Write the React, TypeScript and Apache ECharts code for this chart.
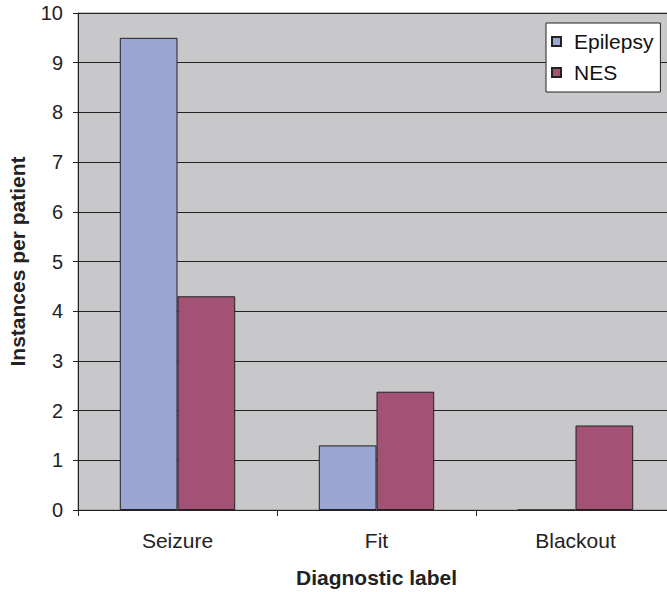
import React, { useEffect, useRef } from "react";
import * as echarts from "echarts";

const categories = ["Seizure", "Fit", "Blackout"];
const epilepsyValues = [9.5, 1.3, 0];
const nesValues = [4.3, 2.38, 1.7];
const seriesNames = ["Epilepsy", "NES"];

const FONT = "'Liberation Sans', Arial, sans-serif";

export default function App() {
  const ref = useRef<HTMLDivElement>(null);
  useEffect(() => {
    if (!ref.current) return;
    const chart = echarts.init(ref.current, undefined, { renderer: "svg" });
    chart.setOption({
      animation: false,
      textStyle: { fontFamily: FONT },
      grid: {
        left: 78,
        right: 0,
        top: 13,
        bottom: 82,
        containLabel: false,
        outerBoundsMode: "none",
        show: true,
        backgroundColor: "#c8c8ca",
        borderColor: "#8a8a8a",
        borderWidth: 1,
      },
      legend: {
        orient: "vertical",
        left: 546,
        top: 23,
        padding: [8, 7, 9, 5],
        itemGap: 10,
        itemWidth: 9,
        itemHeight: 9,
        icon: "rect",
        backgroundColor: "#ffffff",
        borderColor: "#222",
        borderWidth: 1,
        borderRadius: 0,
        textStyle: { fontSize: 21, color: "#111", fontFamily: FONT, padding: [0, 0, 0, 8] },
        data: seriesNames,
      },
      xAxis: {
        type: "category",
        data: categories,
        name: "Diagnostic label",
        nameLocation: "middle",
        nameGap: 57,
        nameTextStyle: { fontSize: 21, fontWeight: "bold", color: "#222", fontFamily: FONT },
        axisLine: { lineStyle: { color: "#222", width: 1 } },
        axisTick: { show: true, length: 6, lineStyle: { color: "#222" } },
        axisLabel: { fontSize: 21, color: "#222", margin: 20, fontFamily: FONT },
      },
      yAxis: {
        type: "value",
        min: 0,
        max: 10,
        interval: 1,
        name: "Instances per patient",
        nameLocation: "middle",
        nameGap: 50,
        nameTextStyle: { fontSize: 21, fontWeight: "bold", color: "#222", fontFamily: FONT },
        axisLine: { show: true, lineStyle: { color: "#222", width: 1 } },
        axisTick: { show: true, length: 5, lineStyle: { color: "#222" } },
        axisLabel: { fontSize: 20, color: "#222", margin: 15, fontFamily: FONT },
        splitLine: { show: true, lineStyle: { color: "#222", width: 1 } },
      },
      series: [
        {
          name: seriesNames[0],
          type: "bar",
          data: epilepsyValues,
          barGap: "0%",
          barCategoryGap: "42%",
          itemStyle: { color: "#9aa5d4", borderColor: "#222", borderWidth: 1 },
        },
        {
          name: seriesNames[1],
          type: "bar",
          data: nesValues,
          barGap: "0%",
          barCategoryGap: "42%",
          itemStyle: { color: "#a35276", borderColor: "#222", borderWidth: 1 },
        },
      ],
    });
    return () => chart.dispose();
  }, []);
  return (
    <div style={{ position: "absolute", left: 0, top: 0, width: 667, height: 592, overflow: "hidden", background: "#fff" }}>
      <div ref={ref} style={{ width: 675, height: 592 }} />
    </div>
  );
}
